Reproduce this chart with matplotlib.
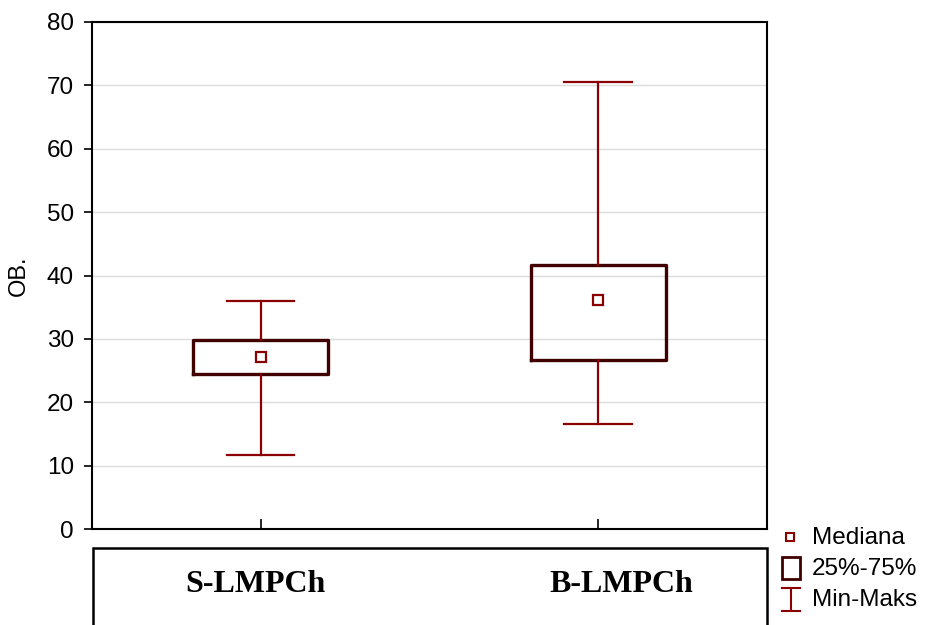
import numpy as np
import matplotlib
matplotlib.use('Agg')
import matplotlib.pyplot as plt
from matplotlib.patches import Rectangle

plt.rcParams['font.family'] = ['Liberation Sans', 'DejaVu Sans']

# data
groups = ['S-LMPCh', 'B-LMPCh']
medians = [27.2, 36.2]
q1 = [24.5, 26.6]
q3 = [29.9, 41.6]
mins = [11.7, 16.6]
maxs = [36.0, 70.6]
legend_labels = ['Mediana', '25%-75%', 'Min-Maks']

whisk_col = '#8b0000'
box_col = '#400000'

fig = plt.figure(figsize=(9.28, 6.25), dpi=100)
ax = fig.add_axes([92 / 928, 1 - 529 / 625, 675 / 928, 507 / 625])

stats = []
for i, g in enumerate(groups):
    stats.append({'label': g, 'med': medians[i], 'q1': q1[i], 'q3': q3[i],
                  'whislo': mins[i], 'whishi': maxs[i], 'fliers': []})

pos = np.arange(1, len(groups) + 1)
ax.bxp(stats, positions=pos, widths=0.4, showfliers=False,
       boxprops=dict(color=box_col, linewidth=2.4),
       whiskerprops=dict(color=whisk_col, linewidth=1.6),
       capprops=dict(color=whisk_col, linewidth=1.6),
       medianprops=dict(visible=False), capwidths=0.2, zorder=3)
ax.plot(pos, medians, 's', ms=7, mfc='white', mec=whisk_col, mew=1.6, zorder=4)

ax.set_xlim(0.5, 2.5)
ax.set_ylim(0, 80)
ax.set_yticks(np.arange(0, 81, 10))
ax.set_xticks(pos)
ax.set_xticklabels([])
ax.yaxis.grid(True, color='#dcdcdc', linewidth=1)
ax.set_axisbelow(True)
ax.tick_params(axis='y', direction='out', length=6, width=1.2, labelsize=17.5, pad=7)
ax.tick_params(axis='x', direction='in', length=7, width=1.2)
for s in ax.spines.values():
    s.set_linewidth(1.5)
ax.set_ylabel('OB.', fontsize=17, labelpad=12)

# overlay in pixel coords for category box and legend
ov = fig.add_axes([0, 0, 1, 1], facecolor='none')
ov.set_xlim(0, 928)
ov.set_ylim(625, 0)
ov.axis('off')

ov.add_patch(Rectangle((93, 548), 674, 90, facecolor='white', edgecolor='black',
                       linewidth=1.8, clip_on=False))
for g, xc in zip(groups, [255, 621]):
    ov.text(xc, 592, g, ha='center', va='baseline', fontsize=23, fontweight='bold',
            family=['Liberation Serif', 'DejaVu Serif'])

# legend
ov.plot([790], [537], 's', ms=6, mfc='white', mec=whisk_col, mew=1.5)
ov.add_patch(Rectangle((782, 557), 18, 22, facecolor='white', edgecolor=box_col, linewidth=2))
ov.plot([791, 791], [588, 611], color=whisk_col, lw=1.5)
ov.plot([782, 800], [588, 588], color=whisk_col, lw=1.5)
ov.plot([782, 800], [611, 611], color=whisk_col, lw=1.5)
for lab, y in zip(legend_labels, [538, 569, 600]):
    ov.text(812, y, lab, va='center', ha='left', fontsize=17.5)

fig.savefig('out.png', dpi=100)
